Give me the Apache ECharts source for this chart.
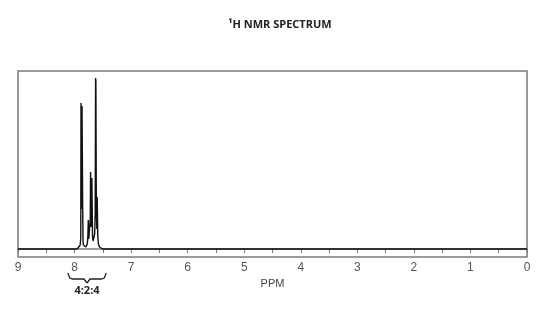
<!DOCTYPE html>
<html><head><meta charset="utf-8">
<script src="https://cdn.jsdelivr.net/npm/echarts@6/dist/echarts.min.js"></script>
<style>html,body{margin:0;padding:0;background:#fff}#c{width:560px;height:309px}</style>
</head><body><div id="c"></div>
<script>
var titleText = '\u00B9H NMR SPECTRUM';
var axisName = 'PPM';
var ratioLabel = '4:2:4';
var braceRange = [8.12, 7.44];
// spectrum points: ppm
var ppm = [9.0, 8.0, 7.95, 7.92, 7.90, 7.89, 7.886, 7.881, 7.874, 7.868, 7.863, 7.856, 7.85, 7.845, 7.835, 7.80, 7.775, 7.765, 7.757, 7.749, 7.738, 7.722, 7.717, 7.712, 7.706, 7.700, 7.694, 7.689, 7.682, 7.672, 7.66, 7.645, 7.635, 7.628, 7.623, 7.615, 7.607, 7.600, 7.596, 7.589, 7.578, 7.56, 7.53, 7.50, 0.0];
// intensity (arbitrary units)
var intensity = [0, 0, 0.3, 1.5, 4, 12, 146, 144, 40, 143, 144, 40, 8, 4, 2, 2, 5, 12, 29, 10, 12, 30, 77, 75, 22, 40, 71, 69, 12, 8, 10, 15, 35, 171, 168, 40, 20, 52, 50, 12, 5, 2, 0.5, 0, 0];
var xMin = 0, xMax = 9, xInterval = 1;

var data = ppm.map(function (p, i) { return [p, intensity[i]]; });
var chart = echarts.init(document.getElementById('c'));
var axisColor = '#7a7a7a';
chart.setOption({
  animation: false,
  title: { text: titleText, left: 'center', top: 14,
    textStyle: { fontFamily: 'Open Sans', fontWeight: 'bold', fontSize: 11, color: '#222' } },
  grid: { left: 18, right: 33, top: 71, bottom: 52, show: true, borderColor: axisColor, borderWidth: 1.5 },
  xAxis: {
    type: 'value', inverse: true, min: xMin, max: xMax, interval: xInterval,
    name: axisName, nameLocation: 'middle', nameGap: 21,
    nameTextStyle: { fontFamily: 'Liberation Sans', fontSize: 11, color: '#444' },
    axisLine: { lineStyle: { color: axisColor, width: 1.5 } },
    axisTick: { show: true, length: 4, lineStyle: { color: axisColor } },
    minorTick: { show: true, splitNumber: 2, length: 4, lineStyle: { color: axisColor } },
    axisLabel: { fontFamily: 'Liberation Sans', fontSize: 12, color: '#555', margin: 5 },
    splitLine: { show: false }
  },
  yAxis: { type: 'value', min: -8, max: 178, show: false, splitLine: { show: false } },
  series: [{
    type: 'line', data: data, showSymbol: false, symbol: 'none',
    lineStyle: { color: '#111', width: 1.4 }, z: 3
  }]
});
function drawBrace() {
  var a = chart.convertToPixel({ xAxisIndex: 0 }, braceRange[0]);
  var b = chart.convertToPixel({ xAxisIndex: 0 }, braceRange[1]);
  var m = (a + b) / 2;
  var y0 = 273, y1 = 279, y2 = 283;
  chart.setOption({ graphic: [
    { type: 'polyline', shape: { points: [[a, y0], [a + 2, y1 - 1], [a + 5, y1], [m - 3, y1], [m, y2]] },
      style: { stroke: '#222', lineWidth: 1.3, fill: null } },
    { type: 'polyline', shape: { points: [[b, y0], [b - 2, y1 - 1], [b - 5, y1], [m + 3, y1], [m, y2]] },
      style: { stroke: '#222', lineWidth: 1.3, fill: null } },
    { type: 'text', x: m, y: 285, style: { text: ratioLabel, fontFamily: 'Open Sans', fontWeight: 'bold', fontSize: 11, fill: '#222', textAlign: 'center' } }
  ] });
}
drawBrace();
</script></body></html>
